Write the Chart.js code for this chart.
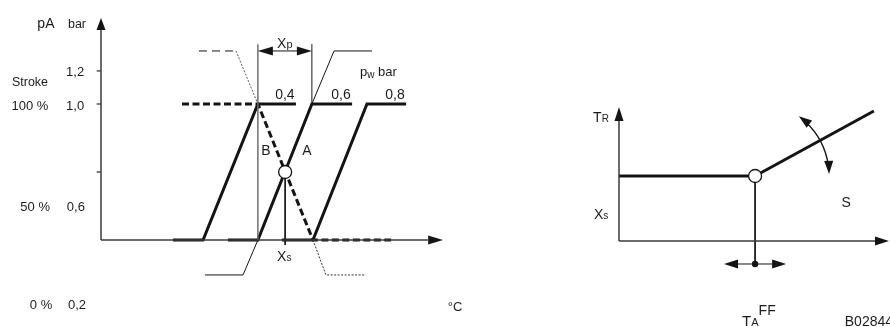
<!DOCTYPE html>
<html>
<head>
<meta charset="utf-8">
<script src="https://cdn.jsdelivr.net/npm/chart.js@4.4.0/dist/chart.umd.min.js"></script>
<style>
html, body { margin: 0; padding: 0; background: #fff; }
canvas { display: block; }
</style>
</head>
<body>
<canvas id="chart" width="890" height="327"></canvas>
<script>

// --- left diagram: valve stroke (%) over temperature, one curve per pilot pressure pw ---
var pwLabels   = ['0,4', '0,6', '0,8'];
var curveStart = [26.7, 47.0, 67.0];   // start of the closed (lower) flat part
var riseStart  = [37.8, 58.1, 78.5];   // valve begins to open
var riseEnd    = [58.1, 78.1, 98.5];   // valve fully open
var curveEnd   = [72.2, 93.0, 113.0];  // end of the open (upper) flat part
var strokeClosed = 0;
var strokeOpen = 100;

// dashed curve B
var curveBx = [30.0, 58.1, 78.5, 107.4];
var curveBy = [100, 100, 0, 0];

// proportional band Xp and the set point Xs
var xpBand = [58.1, 78.1];
var setPointX = 68.2;
var setPointY = 50;

// y axis labels: pressure (bar) and stroke, and the ticks on the axis
var barLabels    = ['1,2', '1,0', '0,6', '0,2'];
var strokeLabels = ['', '100 %', '50 %', '0 %'];
var tickLevels   = [124.3, 100, 50];

// --- right diagram: set value TR over outdoor temperature TA ---
var trBase = 47.8;          // Xs
var taKnee = 50.4;          // TA where the slope starts (TA FF)
var slopeEndX = 94.4;
var slopeEndY = 95.6;
var taMarkY = -16.9;
var taRange = [38.9, 61.9];

var ink = '#141414';
var FONT = '"Liberation Sans", Arial, Helvetica, sans-serif';

function line(points, opts, right) {
  return Object.assign({
    data: points,
    showLine: true,
    pointRadius: 0,
    borderColor: ink,
    borderWidth: 1,
    fill: false,
    clip: false,
    xAxisID: right ? 'xR' : 'x',
    yAxisID: right ? 'yR' : 'y'
  }, opts || {});
}

function pt(x, y) { return { x: x, y: y }; }

var datasets = [];

// open circles on top of everything
datasets.push({
  data: [pt(setPointX, setPointY)], pointRadius: 6.5, pointBackgroundColor: '#fff',
  pointBorderColor: ink, pointBorderWidth: 1.3, order: -2, clip: false, xAxisID: 'x', yAxisID: 'y'
});
datasets.push({
  data: [pt(taKnee, trBase)], pointRadius: 6.5, pointBackgroundColor: '#fff',
  pointBorderColor: ink, pointBorderWidth: 1.3, order: -2, clip: false, xAxisID: 'xR', yAxisID: 'yR'
});
datasets.push({
  data: [pt(taKnee, taMarkY)], pointRadius: 3.2, pointBackgroundColor: ink,
  pointBorderColor: ink, pointBorderWidth: 0, order: -2, clip: false, xAxisID: 'xR', yAxisID: 'yR'
});

// axes of the left diagram
datasets.push(line([pt(0, 0), pt(0, 156)], { borderWidth: 1.5, borderColor: '#3a3a3a' }));
datasets.push(line([pt(0, 0), pt(121, 0)], { borderWidth: 1.5, borderColor: '#3a3a3a' }));
tickLevels.forEach(function (v) {
  datasets.push(line([pt(-1.6, v), pt(0, v)], { borderWidth: 1.3, borderColor: '#3a3a3a' }));
});

// Xp band borders and the Xs drop line
datasets.push(line([pt(xpBand[0], 0), pt(xpBand[0], 144)], { borderWidth: 1.5, borderColor: '#6e6e6e' }));
datasets.push(line([pt(xpBand[1], strokeOpen), pt(xpBand[1], 144)], { borderWidth: 1 }));
datasets.push(line([pt(xpBand[0] + 4, 139), pt(xpBand[1] - 4, 139)], { borderWidth: 1 }));
datasets.push(line([pt(setPointX, setPointY), pt(setPointX, -3.7)], { borderWidth: 1 }));

// thin construction lines above and below
datasets.push(line([pt(36.3, 139), pt(50.0, 139)], { borderWidth: 1, borderDash: [8, 5] }));
datasets.push(line([pt(50.0, 139), pt(58.1, 100)], { borderWidth: 0.8, borderDash: [2, 1.5], borderColor: '#333' }));
datasets.push(line([pt(78.1, 100), pt(86.3, 139), pt(100.4, 139)], { borderWidth: 1 }));
datasets.push(line([pt(58.1, 0), pt(52.6, -25.7), pt(38.5, -25.7)], { borderWidth: 1 }));
datasets.push(line([pt(78.5, 0), pt(83.3, -25.7), pt(98.1, -25.7)], { borderWidth: 1, borderDash: [2, 1.5], borderColor: '#333' }));

// pw curves
for (var i = 0; i < pwLabels.length; i++) {
  datasets.push(line([
    pt(curveStart[i], strokeClosed), pt(riseStart[i], strokeClosed),
    pt(riseEnd[i], strokeOpen), pt(curveEnd[i], strokeOpen)
  ], { borderWidth: 3 }));
}

// curve B
datasets.push(line(curveBx.map(function (x, k) { return pt(x, curveBy[k]); }),
  { borderWidth: 3, borderDash: [7, 3.5] }));

// right diagram
datasets.push(line([pt(0, 0), pt(0, 92)], { borderWidth: 1.5, borderColor: '#3a3a3a' }, true));
datasets.push(line([pt(0, 0), pt(95, 0)], { borderWidth: 1.5, borderColor: '#3a3a3a' }, true));
datasets.push(line([pt(0, trBase), pt(taKnee, trBase)], { borderWidth: 3 }, true));
datasets.push(line([pt(taKnee, trBase), pt(slopeEndX, slopeEndY)], { borderWidth: 3 }, true));
datasets.push(line([pt(taKnee, trBase), pt(taKnee, taMarkY)], { borderWidth: 1 }, true));
datasets.push(line([pt(taRange[0] + 3, taMarkY), pt(taRange[1] - 3, taMarkY)], { borderWidth: 1 }, true));

// text: panel, x, y (baseline), alignment, parts [text, size, dy]
var texts = [
  ['L', -20.4, 155.9, 'center', [['pA', 14, 0]]],
  ['L', -8.9, 155.9, 'center', [['bar', 12.5, 0]]],
  ['L', -26.3, 113.2, 'center', [['Stroke', 12.5, 0]]],
  ['L', -26.3, 95.6, 'center', [[strokeLabels[1], 13, 0]]],
  ['L', -24.4, 21.5, 'center', [[strokeLabels[2], 13, 0]]],
  ['L', -22.2, -50.7, 'center', [[strokeLabels[3], 13, 0]]],
  ['L', -9.6, 120.6, 'center', [[barLabels[0], 13, 0]]],
  ['L', -9.6, 95.6, 'center', [[barLabels[1], 13, 0]]],
  ['L', -9.3, 21.5, 'center', [[barLabels[2], 13, 0]]],
  ['L', -8.9, -50.7, 'center', [[barLabels[3], 13, 0]]],
  ['L', 65.2, 141.2, 'left', [['X', 14, 0], ['p', 11, 0]]],
  ['L', 95.9, 120.6, 'left', [['p', 13, 0], ['w', 10, 2], [' bar', 13, 0]]],
  ['L', 68.1, 103.5, 'center', [[pwLabels[0], 14, 0]]],
  ['L', 88.9, 103.5, 'center', [[pwLabels[1], 14, 0]]],
  ['L', 108.9, 103.5, 'center', [[pwLabels[2], 14, 0]]],
  ['L', 61.1, 62.5, 'center', [['B', 14, 0]]],
  ['L', 76.3, 62.5, 'center', [['A', 14, 0]]],
  ['L', 65.2, -15.4, 'left', [['X', 14, 0], ['s', 10, 0]]],
  ['L', 131.1, -52.0, 'center', [['°C', 13, 0]]],
  ['R', -9.6, 87.5, 'left', [['T', 14, 0], ['R', 10, 0]]],
  ['R', -9.3, 16.2, 'left', [['X', 14, 0], ['s', 10, 0]]],
  ['R', 84.1, 25.2, 'center', [['S', 14, 0]]],
  ['R', 45.6, -62.5, 'left', [['T', 15, 0], ['A', 11, 0], ['FF', 14, -11]]],
  ['R', 101.5, -62.5, 'right', [['B02844', 14, 0]]]
];

function head(ctx, tip, ang, len, half) {
  ctx.save();
  ctx.translate(tip[0], tip[1]);
  ctx.rotate(ang);
  ctx.beginPath();
  ctx.moveTo(0, 0);
  ctx.lineTo(-len, -half);
  ctx.lineTo(-len, half);
  ctx.closePath();
  ctx.fill();
  ctx.restore();
}

function rich(ctx, parts, x, y, align) {
  var w = 0;
  parts.forEach(function (p) {
    ctx.font = p[1] + 'px ' + FONT;
    w += ctx.measureText(p[0]).width;
  });
  var cx = align === 'left' ? x : (align === 'right' ? x - w : x - w / 2);
  ctx.textAlign = 'left';
  ctx.textBaseline = 'alphabetic';
  parts.forEach(function (p) {
    ctx.font = p[1] + 'px ' + FONT;
    ctx.fillText(p[0], cx, y + p[2]);
    cx += ctx.measureText(p[0]).width;
  });
}

var decor = {
  id: 'decor',
  afterDatasetsDraw: function (chart) {
    var ctx = chart.ctx;
    var s = chart.scales;
    function L(x, y) { return [s.x.getPixelForValue(x), s.y.getPixelForValue(y)]; }
    function R(x, y) { return [s.xR.getPixelForValue(x), s.yR.getPixelForValue(y)]; }
    var up = -Math.PI / 2;

    ctx.save();
    ctx.fillStyle = ink;
    ctx.strokeStyle = ink;

    // arrowheads, left diagram
    head(ctx, L(0, 163.2), up, 12, 4.5);
    head(ctx, L(126.7, 0), 0, 15, 4.5);
    head(ctx, L(xpBand[0], 139), Math.PI, 15, 4.5);
    head(ctx, L(xpBand[1], 139), 0, 15, 4.5);

    // arrowheads, right diagram
    head(ctx, R(0, 98.5), up, 14, 4.5);
    head(ctx, R(100, 0), 0, 14, 4.5);
    head(ctx, R(taRange[0], taMarkY), Math.PI, 14, 4.5);
    head(ctx, R(taRange[1], taMarkY), 0, 14, 4.5);

    // curved double arrow: the slope S can be turned around the knee
    var c = R(taKnee, trBase);
    var rad = 74;
    var a0 = -53.7 * Math.PI / 180, a1 = -1.6 * Math.PI / 180;
    ctx.lineWidth = 1.4;
    ctx.beginPath();
    ctx.arc(c[0], c[1], rad, a0 + 0.12, a1 - 0.12);
    ctx.stroke();
    head(ctx, [c[0] + rad * Math.cos(a0), c[1] + rad * Math.sin(a0)],
      Math.atan2(-Math.cos(a0), Math.sin(a0)), 13, 4.5);
    head(ctx, [c[0] + rad * Math.cos(a1), c[1] + rad * Math.sin(a1)],
      Math.atan2(Math.cos(a1), -Math.sin(a1)), 13, 4.5);

    // labels
    ctx.fillStyle = '#1c1c1c';
    texts.forEach(function (t) {
      var p = t[0] === 'L' ? L(t[1], t[2]) : R(t[1], t[2]);
      rich(ctx, t[4], p[0], p[1], t[3]);
    });
    ctx.restore();
  }
};

new Chart(document.getElementById('chart'), {
  type: 'scatter',
  data: { datasets: datasets },
  options: {
    responsive: false,
    animation: false,
    events: [],
    layout: { padding: 0, autoPadding: false },
    plugins: { legend: { display: false }, tooltip: { enabled: false } },
    // ranges chosen so both diagrams sit in one canvas with shared pixel units
    scales: {
      x:  { type: 'linear', display: false, min: -37.41,  max: 292.22 },
      y:  { type: 'linear', display: false, min: -63.97,  max: 176.47 },
      xR: { type: 'linear', display: false, axis: 'x', min: -229.26, max: 100.37 },
      yR: { type: 'linear', display: false, axis: 'y', min: -63.23,  max: 177.21 }
    }
  },
  plugins: [decor]
});
</script>
</body>
</html>
